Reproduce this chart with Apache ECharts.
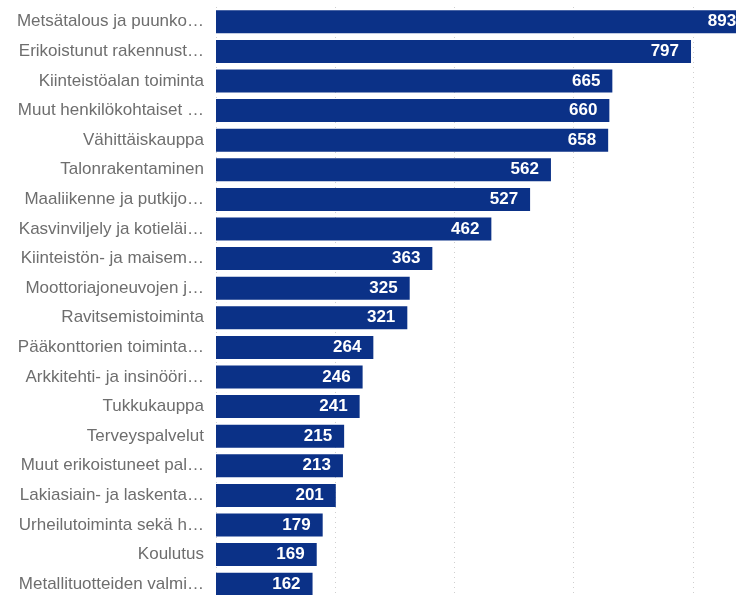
<!DOCTYPE html>
<html><head><meta charset="utf-8">
<script src="https://cdn.jsdelivr.net/npm/echarts@6/dist/echarts.min.js"></script>
<style>html,body{margin:0;padding:0;background:#fff}#c{width:736px;height:595px}</style>
</head><body><div id="c"></div>
<script>
const categories = [
  "Metsätalous ja puunko…",
  "Erikoistunut rakennust…",
  "Kiinteistöalan toiminta",
  "Muut henkilökohtaiset …",
  "Vähittäiskauppa",
  "Talonrakentaminen",
  "Maaliikenne ja putkijo…",
  "Kasvinviljely ja kotieläi…",
  "Kiinteistön- ja maisem…",
  "Moottoriajoneuvojen j…",
  "Ravitsemistoiminta",
  "Pääkonttorien toiminta…",
  "Arkkitehti- ja insinööri…",
  "Tukkukauppa",
  "Terveyspalvelut",
  "Muut erikoistuneet pal…",
  "Lakiasiain- ja laskenta…",
  "Urheilutoiminta sekä h…",
  "Koulutus",
  "Metallituotteiden valmi…"
];
const values = [893, 797, 665, 660, 658, 562, 527, 462, 363, 325, 321, 264, 246, 241, 215, 213, 201, 179, 169, 162];
const xTicks = [0, 200, 400, 600, 800, 1000];

const chart = echarts.init(document.getElementById('c'), null, {renderer: 'canvas'});
chart.setOption({
  animation: false,
  grid: {left: 216, top: 7, width: 596, height: 592, containLabel: false, outerBoundsMode: 'none'},
  xAxis: {
    type: 'value', min: xTicks[0], max: xTicks[xTicks.length - 1], interval: 200,
    axisLabel: {show: false}, axisLine: {show: false}, axisTick: {show: false},
    splitLine: {show: true, lineStyle: {color: '#cfcfcf', type: [1, 4], width: 1}}
  },
  yAxis: {
    type: 'category', inverse: true, data: categories,
    axisLine: {show: false}, axisTick: {show: false},
    axisLabel: {color: '#6e6e6e', fontFamily: 'Liberation Sans, Arial, sans-serif', fontSize: 17, margin: 12}
  },
  series: [{
    type: 'bar', data: values, barWidth: 23,
    itemStyle: {color: '#0b3187'},
    label: {show: true, position: 'insideRight', color: '#fff', fontWeight: 'bold',
            fontFamily: 'Liberation Sans, Arial, sans-serif', fontSize: 17, distance: 12}
  }]
});
</script></body></html>
